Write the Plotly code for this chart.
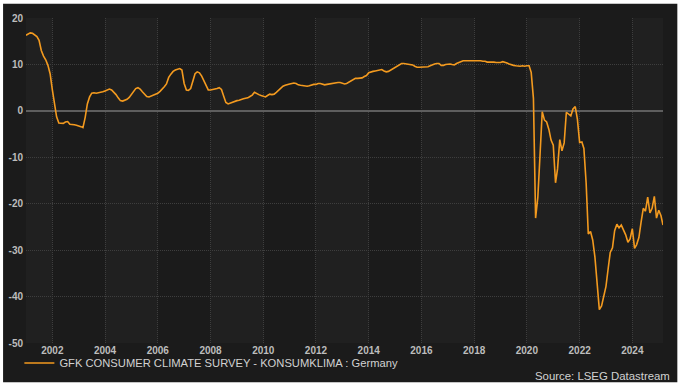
import pandas as pd
import plotly.graph_objects as go

# Monthly GfK consumer climate (Konsumklima), Germany, Jan 2001 - Mar 2025
values_2001_2009 = [
    16.3, 16.6, 16.8, 16.7, 16.4, 16.0, 15.2, 13.0, 11.8, 11.0, 9.8, 8.0,      # 2001
    4.5, 1.2, -1.3, -2.6, -2.7, -2.7, -2.4, -2.3, -2.9, -2.9, -3.0, -3.1,     # 2002
    -3.2, -3.4, -3.6, -1.4, 1.5, 3.0, 3.8, 3.9, 3.8, 3.9, 3.9, 4.1,           # 2003
    4.3, 4.6, 4.7, 4.5, 4.1, 3.5, 2.8, 2.2, 2.1, 2.3, 2.5, 2.9,               # 2004
    3.5, 4.2, 4.8, 5.0, 4.7, 4.1, 3.5, 3.1, 3.0, 3.2, 3.4, 3.6,               # 2005
    3.8, 4.2, 4.6, 5.2, 5.8, 7.2, 7.9, 8.5, 8.8, 9.0, 9.1, 8.8,               # 2006
    5.9, 4.5, 4.4, 4.8, 6.5, 8.0, 8.4, 8.2, 7.5, 6.6, 5.4, 4.5,               # 2007
    4.5, 4.6, 4.6, 4.8, 5.0, 4.6, 3.2, 1.8, 1.5, 1.7, 1.9, 2.1,               # 2008
    2.2, 2.3, 2.5, 2.6, 2.7, 2.8, 3.1, 3.4, 4.0, 3.7, 3.5, 3.3,               # 2009
]
values_2010_2019 = [
    3.2, 3.0, 3.3, 3.6, 3.5, 3.6, 4.0, 4.5, 4.9, 5.3, 5.5, 5.7,               # 2010
    5.8, 5.9, 6.0, 5.9, 5.6, 5.5, 5.4, 5.3, 5.3, 5.4, 5.6, 5.7,               # 2011
    5.7, 5.9, 5.9, 5.7, 5.6, 5.7, 5.8, 5.9, 5.9, 6.0, 6.1, 6.1,               # 2012
    6.0, 5.8, 5.9, 6.2, 6.5, 6.8, 7.0, 7.0, 7.1, 7.1, 7.4, 7.6,               # 2013
    8.2, 8.4, 8.5, 8.6, 8.7, 8.9, 8.9, 8.6, 8.4, 8.5, 8.8, 9.2,               # 2014
    9.4, 9.7, 10.0, 10.2, 10.2, 10.1, 10.1, 10.0, 9.9, 9.6, 9.4, 9.4,         # 2015
    9.4, 9.4, 9.4, 9.5, 9.7, 10.0, 10.1, 10.2, 10.2, 9.8, 9.8, 10.0,          # 2016
    10.1, 10.1, 10.0, 9.9, 10.2, 10.4, 10.6, 10.8, 10.8, 10.8, 10.8, 10.8,    # 2017
    10.8, 10.9, 10.9, 10.8, 10.7, 10.7, 10.5, 10.5, 10.6, 10.5, 10.4, 10.4,   # 2018
    10.4, 10.6, 10.5, 10.3, 10.1, 9.9, 9.8, 9.7, 9.6, 9.6, 9.7, 9.6,          # 2019
]
values_2020_2025 = [
    9.7, 9.7, 8.3, 2.7, -23.1, -18.6, -9.6, -0.2, -2.0, -2.4, -4.0, -6.3,     # 2020
    -7.4, -15.5, -12.5, -6.2, -8.6, -6.9, -0.3, -0.7, -1.1, 0.4, 0.9, -1.8,   # 2021
    -6.8, -6.7, -8.1, -15.5, -26.5, -26.0, -27.8, -31.5, -36.8, -42.8, -42.0, -40.2,  # 2022
    -37.8, -33.9, -30.5, -29.5, -25.8, -24.4, -25.2, -24.6, -25.6, -26.7, -28.3, -27.6,  # 2023
    -25.4, -29.6, -28.8, -27.3, -24.0, -21.0, -21.6, -18.6, -22.0, -21.0, -18.4, -23.1,  # 2024
    -21.4, -22.6, -24.6,                                                        # 2025
]
konsumklima = values_2001_2009 + values_2010_2019 + values_2020_2025
months = pd.date_range("2001-01-01", periods=len(konsumklima), freq="MS")

x_tick_years = list(range(2002, 2026, 2))
y_ticks = [20, 10, 0, -10, -20, -30, -40, -50]
band_starts = [2000, 2004, 2008, 2012, 2016, 2020, 2024]

series_name = "GFK CONSUMER CLIMATE SURVEY - KONSUMKLIMA : Germany"
source_text = "Source: LSEG Datastream"

LINE = "#f39a1f"
FONT = "Liberation Sans, Arial, sans-serif"

fig = go.Figure()
fig.add_trace(go.Scatter(
    x=months, y=konsumklima, mode="lines", name=series_name,
    line=dict(color=LINE, width=1.6),
))

x_start = months[0]
x_end = months[-1]

shapes = []
# dark panel behind everything
shapes.append(dict(type="rect", xref="paper", yref="paper",
                   x0=-0.036, x1=1.0225, y0=-0.1205, y1=1.0441,
                   fillcolor="#1b1b1b", line=dict(width=0), layer="below"))
# alternating lighter bands every other two years
for b in band_starts:
    x0 = max(pd.Timestamp(f"{b}-01-01"), x_start)
    x1 = min(pd.Timestamp(f"{b + 2}-01-01"), x_end)
    shapes.append(dict(type="rect", xref="x", yref="paper",
                       x0=x0, x1=x1, y0=0, y1=1,
                       fillcolor="#202020", line=dict(width=0), layer="below"))

fig.update_layout(
    width=681, height=385,
    margin=dict(l=26, r=18, t=18, b=42, pad=0, autoexpand=False),
    paper_bgcolor="#ffffff",
    plot_bgcolor="#161616",
    shapes=shapes,
    font=dict(family=FONT, color="#bcbcbc"),
    showlegend=True,
    legend=dict(
        orientation="h", x=-0.0104, xanchor="left", y=-0.0617, yanchor="middle",
        bgcolor="rgba(0,0,0,0)", font=dict(family=FONT, size=11.2, color="#d2d2d2"),
        itemwidth=30, traceorder="normal",
    ),
    annotations=[dict(
        text=source_text, xref="paper", yref="paper",
        x=1.0138, y=-0.1017, xanchor="right", yanchor="middle", showarrow=False,
        font=dict(family=FONT, size=11.4, color="#d2d2d2"),
    )],
)

GRID = "#3e3e3e"
fig.update_xaxes(
    range=[x_start, x_end],
    tickmode="array",
    tickvals=[pd.Timestamp(f"{y}-01-01") for y in x_tick_years],
    ticktext=[str(y) for y in x_tick_years],
    showgrid=True, gridcolor=GRID, griddash="1px,1px", gridwidth=1,
    zeroline=False, showline=False, ticks="",
    tickfont=dict(family=FONT, size=10, color="#bdbdbd", weight="bold"),
    ticklabelstandoff=0,
)
fig.update_yaxes(
    range=[-50, 20],
    tickmode="array", tickvals=y_ticks, ticktext=[str(v) for v in y_ticks],
    showgrid=True, gridcolor=GRID, griddash="1px,1px", gridwidth=1,
    zeroline=True, zerolinecolor="#5e5e5e", zerolinewidth=2,
    showline=False, ticks="",
    tickfont=dict(family=FONT, size=10, color="#bdbdbd", weight="bold"),
    ticklabelstandoff=2,
)

fig.write_html("out.html")
